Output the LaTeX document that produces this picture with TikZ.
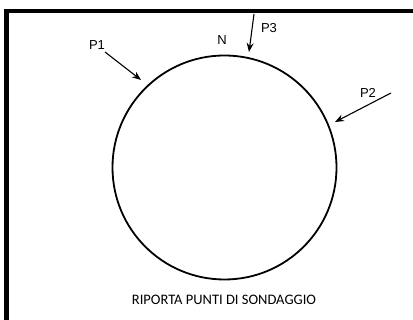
\documentclass[tikz,border=0pt]{standalone}
\usepackage{fontspec}
\setmainfont{Liberation Sans}
\newfontfamily\capfont{Carlito}
\usetikzlibrary{arrows.meta}
\begin{document}
\begin{tikzpicture}[x=1pt,y=1pt,
  lbl/.style={font=\fontsize{13}{13}\selectfont, text=black, inner sep=0pt},
  ptr/.style={line width=1.1pt, -{Stealth[length=9pt,width=7pt]}},
  frame/.style={line width=4.5pt, line join=miter}]
\clip (0,0) rectangle (413,320);
\fill[white] (0,0) rectangle (413,320);
\draw[frame] (6.5,-20) -- (6.5,309) -- (440,309);
\node[draw, circle, line width=1.8pt, minimum size=224pt, inner sep=0pt] (c) at (224.5,152.5) {};
\node[lbl] (n) at (222,280) {N};
\node[lbl] (p1) at (97,275) {P1};
\node[lbl] (p3) at (269,292) {P3};
\node[lbl] (p2) at (368,227) {P2};
\coordinate (s1) at (105,268);
\coordinate (e1) at (141,240);
\coordinate (s3) at (254,306);
\coordinate (e3) at (249,268);
\coordinate (s2) at (391,227);
\coordinate (e2) at (335,198);
\draw[ptr] (s1) -- (e1);
\draw[ptr] (s3) -- (e3);
\draw[ptr] (s2) -- (e2);
\node[inner sep=0pt] (cap) at (224,20) {\capfont\fontsize{14.5}{14.5}\selectfont RIPORTA PUNTI DI SONDAGGIO};
\end{tikzpicture}
\end{document}
